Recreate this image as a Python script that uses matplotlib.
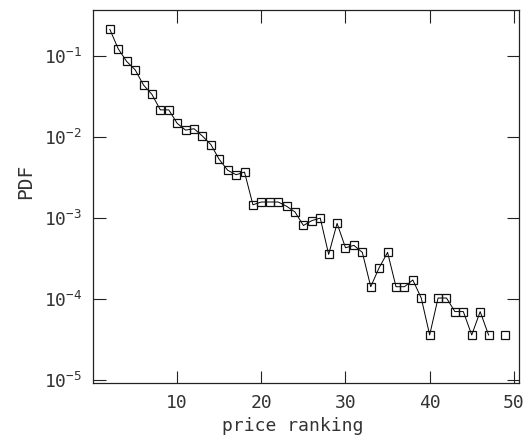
import numpy as np
import matplotlib
matplotlib.use("Agg")
import matplotlib.pyplot as plt
from matplotlib.ticker import FixedLocator, NullLocator, FixedFormatter

rank = list(range(2, 50))
pdf = [0.214, 0.123, 0.086, 0.068, 0.044, 0.0337, 0.0217, 0.0217, 0.0148, 0.0122,
       0.0127, 0.0103, 0.0081, 0.0053, 0.0039, 0.00343, 0.0037, 0.00146, 0.00158, 0.00158,
       0.00158, 0.0014, 0.00119, 0.00081, 0.00093, 0.0010, 0.000356, 0.00086, 0.00043, 0.00046,
       0.000377, 0.000142, 0.000244, 0.000377, 0.000142, 0.000142, 0.000172, 0.000103, 3.6e-5, 1.03e-4,
       1.03e-4, 7.0e-5, 7.0e-5, 3.6e-5, 7.0e-5, 3.6e-5, np.nan, 3.6e-5]
xticks = [10, 20, 30, 40, 50]
xticklabels = ["10", "20", "30", "40", "50"]
yticks = [1e-1, 1e-2, 1e-3, 1e-4, 1e-5]
yticklabels = [r"$10^{-1}$", r"$10^{-2}$", r"$10^{-3}$", r"$10^{-4}$", r"$10^{-5}$"]

plt.rcParams['font.family'] = ['DejaVu Sans Mono']
plt.rcParams['mathtext.fontset'] = 'custom'
plt.rcParams['mathtext.rm'] = 'DejaVu Sans Mono'
plt.rcParams['mathtext.it'] = 'DejaVu Sans Mono'
plt.rcParams['mathtext.default'] = 'rm'

txt = '#333333'
fig = plt.figure(figsize=(5.3, 4.45), dpi=100)
ax = fig.add_axes([0.1755, 0.1393, 0.979 - 0.1755, 0.9775 - 0.1393])

ax.plot(rank, pdf, color='black', lw=0.7, marker='s', markersize=6,
        markerfacecolor='none', markeredgecolor='#111111', markeredgewidth=0.9)

ax.set_yscale('log')
ax.set_xlim(0, 50.6)
ax.set_ylim(10**-5.037, 10**-0.43)

ax.xaxis.set_major_locator(FixedLocator(xticks))
ax.xaxis.set_major_formatter(FixedFormatter(xticklabels))
ax.yaxis.set_major_locator(FixedLocator(yticks))
ax.yaxis.set_major_formatter(FixedFormatter(yticklabels))
ax.xaxis.set_minor_locator(NullLocator())
ax.yaxis.set_minor_locator(NullLocator())

ax.tick_params(which='major', direction='in', length=9, width=0.8,
               top=True, right=True, labelsize=13, color='#222222', labelcolor=txt)
ax.tick_params(axis='x', pad=8)
ax.tick_params(axis='y', pad=8)
for s in ax.spines.values():
    s.set_linewidth(0.9)
    s.set_color('#222222')

ax.set_xlabel('price ranking', fontsize=13, color=txt)
ax.set_ylabel('PDF', fontsize=14, color=txt)
ax.xaxis.set_label_coords(0.468, -0.091)
ax.yaxis.set_label_coords(-0.135, 0.54)

fig.savefig('out.png', dpi=100)
